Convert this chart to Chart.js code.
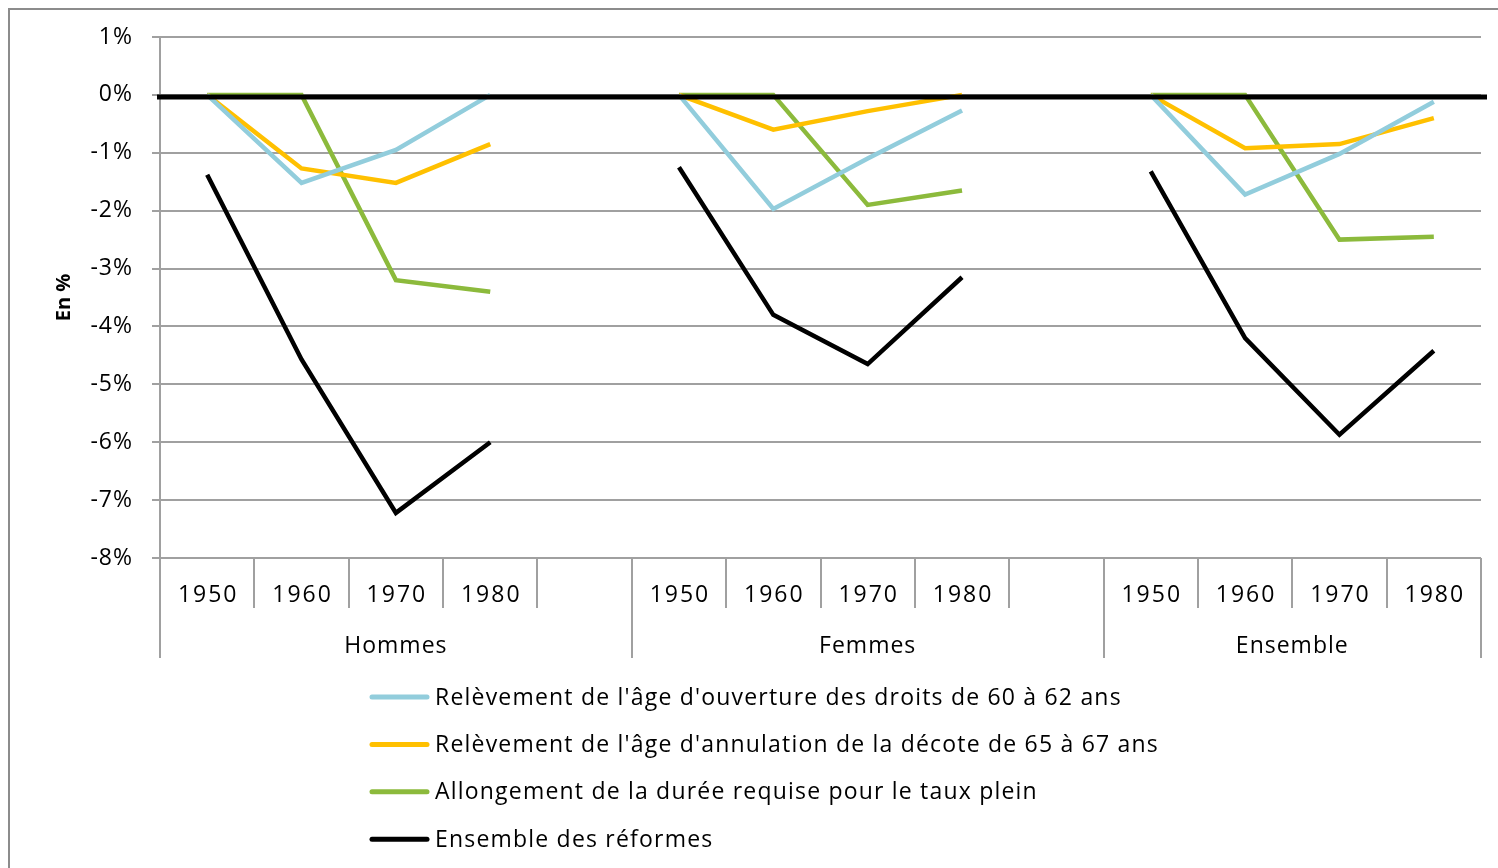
<!DOCTYPE html>
<html>
<head>
<meta charset="utf-8">
<script src="https://cdn.jsdelivr.net/npm/chart.js@4.4.0/dist/chart.umd.min.js"></script>
<style>
  html, body { margin: 0; padding: 0; background: #fff; overflow: hidden; }
  #wrap { position: relative; width: 1498px; height: 868px; }
  #frame { position: absolute; left: 8px; top: 8px; width: 1600px; height: 1000px; border: 2px solid #8c8c8c; box-sizing: border-box; }
  canvas { position: absolute; left: 0; top: 0; }
</style>
</head>
<body>
<div id="wrap">
  <div id="frame"></div>
  <canvas id="chart" width="1498" height="868"></canvas>
</div>
<script>
// data (in %)
const years = ['1950', '1960', '1970', '1980'];
const groups = ['Hommes', 'Femmes', 'Ensemble'];
// one blank slot after Hommes and after Femmes
const ouverture = [0, -1.52, -0.95, 0, null, 0, -1.97, -1.1, -0.27, null, 0, -1.72, -1.02, -0.12];
const decote    = [0, -1.27, -1.52, -0.85, null, 0, -0.6, -0.28, 0, null, 0, -0.92, -0.85, -0.4];
const duree     = [0, 0, -3.2, -3.4, null, 0, 0, -1.9, -1.65, null, 0, 0, -2.5, -2.45];
const ensemble  = [-1.38, -4.57, -7.22, -6.0, null, -1.25, -3.8, -4.65, -3.15, null, -1.32, -4.2, -5.87, -4.42];
const seriesNames = [
  "Relèvement de l'âge d'ouverture des droits de 60 à 62 ans",
  "Relèvement de l'âge d'annulation de la décote de 65 à 67 ans",
  'Allongement de la durée requise pour le taux plein',
  'Ensemble des réformes'
];
const seriesColors = ['#92cddc', '#ffc000', '#8cba3c', '#000000'];
const yTicks = [1, 0, -1, -2, -3, -4, -5, -6, -7, -8];

// build category slots and group spans
const labels = [];
const groupStart = [];
groups.forEach((g, gi) => {
  groupStart.push(labels.length);
  years.forEach(y => labels.push(y));
  if (gi < groups.length - 1) labels.push('');
});
groupStart.push(labels.length);

const FONT = '"Open Sans", "DejaVu Sans", sans-serif';
const GRID = '#a0a0a0';

const decor = {
  id: 'decor',
  beforeDraw(chart) {
    // looser spacing like the original labels
    chart.ctx.letterSpacing = '1px';
  },
  afterDatasetsDraw(chart) {
    const { ctx, scales: { y }, chartArea } = chart;
    // heavy zero line over the series
    const y0 = y.getPixelForValue(0) + 2;
    ctx.save();
    ctx.strokeStyle = '#000';
    ctx.lineWidth = 5;
    ctx.beginPath();
    ctx.moveTo(chartArea.left - 3, y0);
    ctx.lineTo(chartArea.right + 6, y0);
    ctx.stroke();
    ctx.restore();
  },
  afterDraw(chart) {
    const { ctx, scales: { x }, chartArea } = chart;
    const n = labels.length;
    const w = (x.right - x.left) / n;
    const bottom = chartArea.bottom;
    ctx.save();
    // separators under the axis
    ctx.strokeStyle = GRID;
    ctx.lineWidth = 2;
    for (let i = 0; i <= n; i++) {
      const bx = Math.round(x.left + i * w);
      const deep = groupStart.includes(i);
      ctx.beginPath();
      ctx.moveTo(bx, bottom);
      ctx.lineTo(bx, bottom + (deep ? 100 : 50));
      ctx.stroke();
    }
    // year labels
    ctx.fillStyle = '#000';
    ctx.font = '23px ' + FONT;
    ctx.letterSpacing = '2px';
    ctx.textAlign = 'center';
    ctx.textBaseline = 'middle';
    labels.forEach((l, i) => {
      if (l) ctx.fillText(l, x.getPixelForValue(i) + 1, bottom + 37);
    });
    // group labels
    ctx.letterSpacing = '1px';
    groups.forEach((g, gi) => {
      const a = x.left + groupStart[gi] * w;
      const b = x.left + groupStart[gi + 1] * w;
      ctx.fillText(g, (a + b) / 2, bottom + 88);
    });
    // axis title
    ctx.save();
    ctx.translate(64, (chartArea.top + chartArea.bottom) / 2);
    ctx.rotate(-Math.PI / 2);
    ctx.font = 'bold 20px ' + FONT;
    ctx.letterSpacing = '0px';
    ctx.fillText('En %', 0, 0);
    ctx.restore();
    // legend
    ctx.font = '23px ' + FONT;
    ctx.letterSpacing = '1.2px';
    ctx.textAlign = 'left';
    ctx.lineCap = 'round';
    chart.data.datasets.forEach((ds, i) => {
      const ly = 697 + i * 47.4;
      ctx.strokeStyle = ds.borderColor;
      ctx.lineWidth = 5;
      ctx.beginPath();
      ctx.moveTo(372, ly);
      ctx.lineTo(427, ly);
      ctx.stroke();
      ctx.fillStyle = '#000';
      ctx.fillText(ds.label, 435, ly + 1);
    });
    ctx.restore();
  }
};

new Chart(document.getElementById('chart'), {
  type: 'line',
  data: {
    labels: labels,
    datasets: seriesNames.map((name, i) => ({
      label: name,
      data: [ouverture, decote, duree, ensemble][i],
      borderColor: seriesColors[i],
      backgroundColor: seriesColors[i],
      borderWidth: 4.5,
      pointRadius: 0,
      tension: 0,
      spanGaps: false
    }))
  },
  options: {
    responsive: false,
    animation: false,
    layout: { padding: { left: 0, top: 37, right: 17, bottom: 310 } },
    plugins: { legend: { display: false }, tooltip: { enabled: false } },
    scales: {
      x: { display: false, offset: true },
      y: {
        min: -8, max: 1,
        afterFit(scale) { scale.width = 160; },
        afterBuildTicks(scale) { scale.ticks = yTicks.map(v => ({ value: v })); },
        ticks: {
          padding: 19,
          color: '#000',
          font: { family: FONT, size: 23 },
          callback: v => v + '%'
        },
        grid: { color: GRID, lineWidth: 2, tickLength: 8 },
        border: { display: true, color: GRID, width: 2 }
      }
    }
  },
  plugins: [decor]
});
</script>
</body>
</html>
